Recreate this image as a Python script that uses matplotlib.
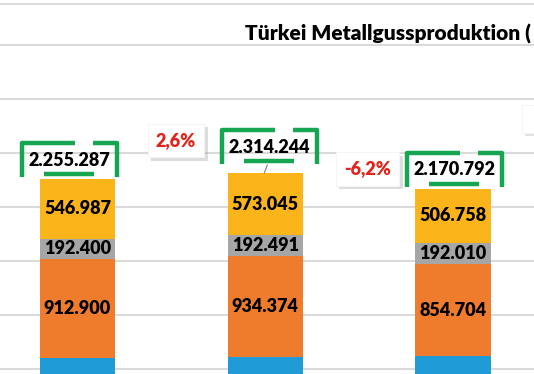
import numpy as np
import matplotlib.pyplot as plt
import matplotlib.patheffects as pe
from matplotlib.lines import Line2D
from matplotlib.patches import Rectangle
from matplotlib.transforms import Affine2D, ScaledTranslation

plt.rcParams['font.family'] = ['Lato', 'DejaVu Sans']

# data (tonnes), stacked bottom -> top
years = ['2017', '2018', '2019']
blue = [603000, 614334, 617320]
orange = [912900, 934374, 854704]
grey = [192400, 192491, 192010]
yellow = [546987, 573045, 506758]
totals = [2255287, 2314244, 2170792]

colors = ['#1F9BD7', '#EF7B2D', '#A6A6A6', '#FBB41A']
green = '#16A551'
red = '#E2231A'
fw = 'heavy'

def fmt(v):
    return f'{v:,}'.replace(',', '.')

W, H = 534, 374
fig = plt.figure(figsize=(W / 100, H / 100), dpi=100)
# the picture is a crop of a larger chart: axes run past the bottom and right edge
ax = fig.add_axes([0, (H - 423) / H, 1, (423 - 4) / H])
x = np.arange(len(years))
ax.set_xlim(-77.5 / 187.75, (W - 77.5) / 187.75)
ax.set_ylim(0, (423 - 4) / 54 * 500000)

ax.set_yticks(np.arange(0, 4000000, 500000))
ax.set_xticks([])
ax.tick_params(left=False, labelleft=False)
ax.grid(axis='y', color='#D9D9D9', linewidth=1.4)
ax.set_axisbelow(True)
for s in ['left', 'right', 'bottom']:
    ax.spines[s].set_visible(False)
ax.spines['top'].set_color('#D9D9D9')
ax.spines['top'].set_linewidth(1.4)

bottom = np.zeros(len(years))
for k, (vals, c) in enumerate(zip([blue, orange, grey, yellow], colors)):
    vals = np.array(vals)
    ax.bar(x, vals, width=0.4, bottom=bottom, color=c, edgecolor='none', zorder=2)
    if k > 0:  # blue labels sit below the visible crop
        for xi, b, v in zip(x, bottom, vals):
            ax.text(xi, b + v / 2, fmt(v), ha='center', va='center',
                    fontsize=13, fontweight=fw, color='black', zorder=3)
    bottom += vals

# total labels in green bracket frames (offsets in pixels)
lbl_dx = [-8, 4, 2]
lbl_dy = [19, 26, 19]
for xi, t, dx, dy in zip(x, totals, lbl_dx, lbl_dy):
    ax.annotate(fmt(t), xy=(xi, t), xytext=(dx * 0.72, dy * 0.72),
                textcoords='offset points', ha='center', va='center',
                fontsize=13, fontweight=fw, color='black', zorder=4)
    tr = (Affine2D().translate(dx, dy).scale(0.01) + fig.dpi_scale_trans
          + ScaledTranslation(xi, t, ax.transData))
    parts = [([5.5, -47.5, -47.5], [17, 17, -17]),
             ([23.5, 47.5, 47.5], [17, 17, -17]),
             ([-25.5, 24.5], [-14, -14])]
    for px, py in parts:
        fig.add_artist(Line2D(px, py, transform=tr, color=green, linewidth=3.2,
                              solid_joinstyle='round', solid_capstyle='butt'))

# leader line for middle label
tr = (Affine2D().scale(0.01) + fig.dpi_scale_trans
      + ScaledTranslation(x[1], totals[1], ax.transData))
fig.add_artist(Line2D([2, -1], [8, 0], transform=tr, color='#808080', linewidth=0.8))

# year-on-year change boxes
pct_dx = [0.025, 0.045]
pct_y = [2615000, 2352000]
for i in range(len(totals) - 1):
    ch = (totals[i + 1] / totals[i] - 1) * 100
    s = f'{ch:.1f}%'.replace('.', ',')
    txt = ax.text(x[i] + 0.5 + pct_dx[i], pct_y[i], s, ha='center', va='center',
                  fontsize=13, fontweight=fw, color=red, zorder=5,
                  bbox=dict(boxstyle='square,pad=0.45', facecolor='white', edgecolor='#F4F4F4',
                            linewidth=0.6))
    txt.get_bbox_patch().set_path_effects(
        [pe.withSimplePatchShadow(offset=(2.5, -2.5), shadow_rgbFace='#a0a0a0', alpha=0.35),
         pe.Normal()])

# next change box, cut off at the right edge
box = Rectangle((2.367, 2685000), 0.3, 260000, facecolor='white', edgecolor='#F2F2F2',
                linewidth=0.5, zorder=5)
box.set_path_effects([pe.withSimplePatchShadow(offset=(2, -2), shadow_rgbFace='#b0b0b0', alpha=0.35),
                      pe.Normal()])
ax.add_patch(box)

# title runs past the right edge of the crop
fig.text(245 / W, 1 - 41 / H, 'Türkei Metallgussproduktion (', fontsize=15,
         fontweight=fw, color='black', ha='left', va='baseline')

fig.savefig('out.png', dpi=100)
